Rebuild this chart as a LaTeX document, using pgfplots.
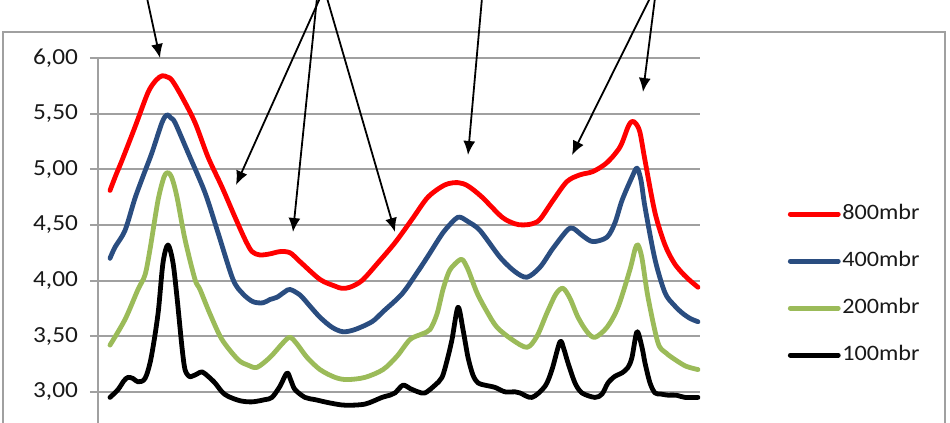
\documentclass[border=0pt]{standalone}
\usepackage{fontspec}
\setmainfont[FakeStretch=1.1]{Carlito}
\usepackage{pgfplots}
\pgfplotsset{compat=1.18}
\usetikzlibrary{arrows.meta}
\definecolor{cred}{HTML}{FF0000}
\definecolor{cblue}{HTML}{2A4D80}
\definecolor{cgreen}{HTML}{9BBB59}
\definecolor{cgrid}{HTML}{A0A0A0}
\begin{document}
\begin{tikzpicture}
\useasboundingbox (0,0) rectangle (475pt,211.5pt);
\clip (0,0) rectangle (475pt,211.5pt);
\draw[cgrid, line width=1pt] (1.5pt,-10pt) -- (1.5pt,195.5pt) -- (472.5pt,195.5pt) -- (472.5pt,-10pt);
\begin{axis}[
  at={(49pt,0pt)}, anchor=south west, scale only axis,
  width=301pt, height=182.5pt,
  xmin=98, xmax=700, ymin=2.72, ymax=6,
  axis x line=none, axis y line*=left,
  y axis line style={cgrid, line width=1pt},
  ytick={3,3.5,4,4.5,5,5.5,6},
  ymajorgrids, major grid style={cgrid, line width=1pt},
  tick align=outside, major tick length=4pt,
  ytick style={cgrid, line width=1pt},
  yticklabel style={font=\fontsize{11.5}{13}\selectfont, text=black!90, xshift=-2.5pt,
    /pgf/number format/fixed, /pgf/number format/fixed zerofill,
    /pgf/number format/precision=2, /pgf/number format/use comma,
    /pgf/number format/assume math mode=true},
  legend style={at={(1.146,0.379)}, anchor=west, draw=none, fill=none,
    inner sep=0pt, outer sep=0pt, font=\fontsize{11}{13}\selectfont, text=black!90,
    row sep=13.5pt, nodes={inner xsep=0.8pt, inner ysep=0pt, text height=7.5pt, text depth=2.5pt}},
  legend cell align=left,
  legend image code/.code={\draw[#1] (0pt,0pt) -- (24pt,0pt);},
  every axis plot/.append style={line width=2.4pt, smooth, tension=0.5, line join=round, line cap=round, mark=none},
]
\addplot[cred] coordinates {
(110,4.81)(116,4.95)(122,5.08)(135,5.38)(148,5.69)(156,5.80)(162,5.84)(167,5.83)(172,5.80)
(182,5.65)(195,5.42)(208,5.11)(222,4.84)(235,4.57)(245,4.37)(252,4.26)(260,4.23)(270,4.24)
(280,4.26)(290,4.25)(300,4.17)(320,4.01)(335,3.95)(342,3.93)(350,3.94)(362,4.00)(378,4.16)
(395,4.34)(412,4.55)(428,4.75)(445,4.86)(458,4.88)(468,4.85)(482,4.75)(502,4.57)(515,4.51)
(523,4.50)(532,4.51)(540,4.55)(553,4.72)(567,4.89)(580,4.95)(593,4.98)(607,5.06)(620,5.20)
(628,5.38)(632,5.43)(636,5.41)(640,5.33)(645,5.08)(655,4.61)(665,4.32)(674,4.16)(682,4.07)
(690,4.00)(698,3.94)};
\addlegendentry{800mbr}
\addplot[cblue] coordinates {
(110,4.20)(115,4.30)(125,4.45)(135,4.74)(144,4.96)(152,5.15)(162,5.42)(167,5.49)(171,5.46)
(175,5.42)(188,5.15)(205,4.79)(218,4.43)(233,4.01)(243,3.88)(253,3.81)(263,3.80)(270,3.83)
(277,3.85)(285,3.90)(290,3.92)(300,3.87)(310,3.77)(320,3.67)(332,3.58)(343,3.54)(355,3.56)
(372,3.63)(383,3.72)(402,3.88)(417,4.07)(428,4.22)(443,4.43)(455,4.55)(460,4.57)(468,4.53)
(480,4.45)(500,4.21)(515,4.08)(527,4.03)(540,4.12)(553,4.29)(567,4.45)(573,4.47)(583,4.40)
(593,4.35)(607,4.39)(615,4.52)(622,4.72)(632,4.93)(637,5.01)(641,4.90)(645,4.66)(655,4.19)
(665,3.89)(674,3.78)(682,3.71)(690,3.66)(698,3.63)};
\addlegendentry{400mbr}
\addplot[cgreen] coordinates {
(110,3.42)(125,3.65)(138,3.92)(145,4.05)(150,4.28)(158,4.72)(164,4.93)(168,4.97)(172,4.92)
(177,4.75)(185,4.37)(195,4.01)(200,3.92)(210,3.70)(222,3.47)(238,3.29)(248,3.24)(257,3.22)
(270,3.31)(283,3.44)(290,3.49)(297,3.43)(307,3.31)(320,3.20)(335,3.13)(347,3.11)(365,3.13)
(383,3.20)(397,3.32)(410,3.47)(422,3.52)(430,3.56)(437,3.70)(443,3.92)(449,4.08)(455,4.15)
(462,4.19)(468,4.10)(477,3.89)(487,3.72)(497,3.58)(512,3.47)(527,3.40)(537,3.50)(547,3.71)
(556,3.88)(563,3.93)(570,3.84)(578,3.67)(587,3.54)(595,3.49)(607,3.58)(618,3.76)(630,4.10)
(635,4.28)(638,4.32)(642,4.20)(648,3.85)(658,3.44)(666,3.35)(675,3.29)(686,3.23)(698,3.20)};
\addlegendentry{200mbr}
\addplot[black] coordinates {
(110,2.95)(118,3.02)(124,3.10)(128,3.13)(133,3.12)(138,3.09)(145,3.12)(151,3.30)(158,3.70)
(163,4.16)(168,4.32)(173,4.16)(177,3.85)(182,3.40)(185,3.20)(189,3.14)(192,3.14)(197,3.16)
(202,3.18)(208,3.14)(215,3.08)(222,3.00)(228,2.96)(240,2.92)(252,2.91)(265,2.93)(272,2.95)
(280,3.05)(287,3.17)(291,3.10)(295,3.02)(305,2.95)(315,2.93)(330,2.90)(345,2.88)(365,2.89)
(382,2.95)(390,2.97)(395,2.99)(403,3.06)(410,3.03)(418,3.00)(425,2.99)(435,3.06)(442,3.13)
(447,3.28)(452,3.47)(458,3.76)(463,3.56)(468,3.31)(473,3.15)(478,3.08)(485,3.06)(495,3.04)
(505,3.00)(515,3.00)(520,2.99)(532,2.95)(545,3.05)(552,3.20)(560,3.45)(564,3.38)(568,3.26)
(575,3.08)(582,2.99)(595,2.95)(602,2.98)(608,3.08)(615,3.14)(622,3.17)(628,3.22)(632,3.31)
(637,3.54)(642,3.40)(645,3.26)(650,3.08)(655,2.99)(661,2.98)(668,2.97)(676,2.97)(685,2.95)
(698,2.95)};
\addlegendentry{100mbr}
\end{axis}
\begin{scope}[x=0.5pt, y=-0.5pt, shift={(0pt,211.5pt)}, line width=0.9pt,
  -{Latex[length=7pt, width=6pt]}]
\draw (147,-2) -- (160,58);
\draw (320,-2) -- (236,185);
\draw (317,-2) -- (293,232);
\draw (327,-2) -- (395,232);
\draw (482,-2) -- (468,155);
\draw (650,-2) -- (572,155);
\draw (655,-2) -- (643,92);
\end{scope}
\end{tikzpicture}
\end{document}
